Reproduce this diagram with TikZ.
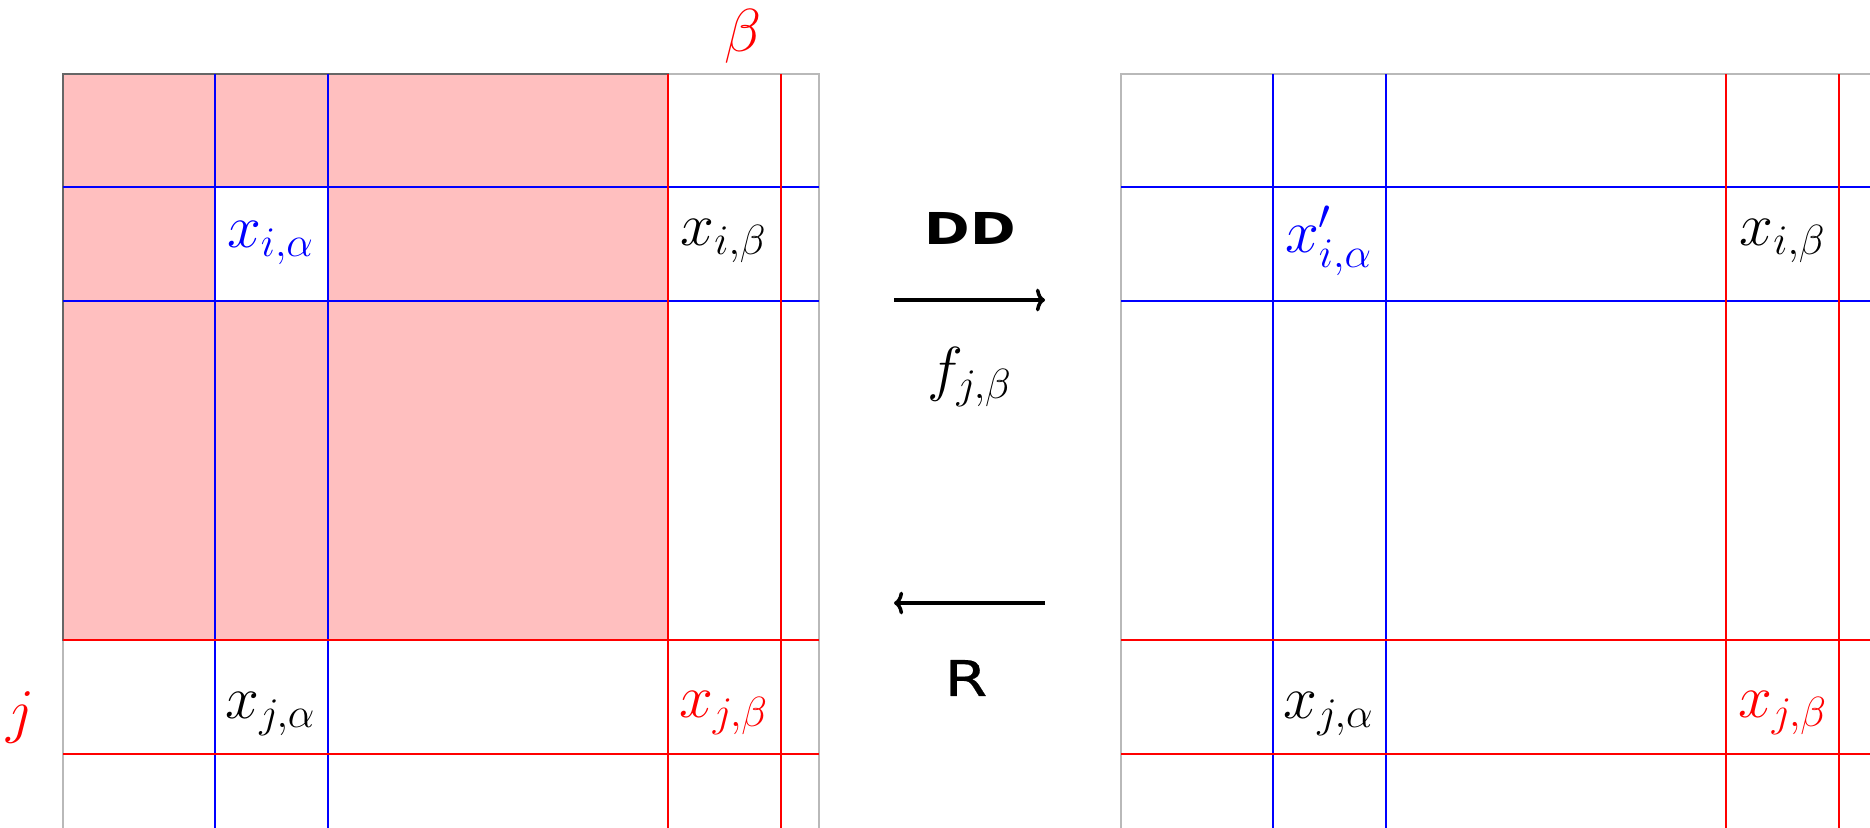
\documentclass[tikz,border=0pt]{standalone}
\usepackage{amsmath}
\usepackage{fontspec}
\newfontfamily\mapfont{DejaVu Sans}
\newfontfamily\mapfontsemi[FakeBold=0.5]{DejaVu Sans}
\usetikzlibrary{arrows.meta, positioning}

\tikzset{
  entry/.style={font=\LARGE, inner sep=0pt, anchor=base},
  index/.style={font=\LARGE, inner sep=0pt, red},
  frame/.style={draw=gray!55, line width=0.4pt},
  blueline/.style={blue, line width=0.6pt},
  redline/.style={red, line width=0.6pt},
  maparrow/.style={-{To[length=2.6pt,width=6.5pt]}, line width=1pt},
  maplabel/.style={font=\mapfont\bfseries\fontsize{12.5}{15}\selectfont, inner sep=0pt},
  mapsemi/.style={font=\mapfontsemi\fontsize{14}{17}\selectfont, inner sep=0pt}
}

\begin{document}
\begin{tikzpicture}[x=0.1mm, y=-0.1mm]
        \useasboundingbox (0,0) rectangle (1870,827);
        \clip (0,0) rectangle (1870,827);

        % Outer frames of the two matrices
        \foreach \dx in {0,1058} {
            \draw[frame, shift={(\dx,0)}] (63,900) -- (63,74) -- (819,74) -- (819,900);
        }

        % Shaded block of the left matrix
        \filldraw[fill=red!25, draw=gray!80!black, line width=0.4pt] (63,74) rectangle (668,640);
        \fill[white] (215,187) rectangle (328,301);

        % Rows i and j, columns alpha and beta
        \foreach \dx in {0,1058} {
            \begin{scope}[shift={(\dx,0)}]
                \draw[blueline] (63,187) -- (819,187) (63,301) -- (819,301);
                \draw[blueline, line width=0.5pt] (215,74) -- (215,900) (328,74) -- (328,900);
                \draw[redline] (63,640) -- (819,640) (63,754) -- (819,754);
                \draw[redline] (668,74) -- (668,900);
                \draw[redline, line width=0.4pt] (781,74) -- (781,900);
            \end{scope}
        }

        % Index labels
        \node[index] (beta) at (743,36) {$\beta$};
        \node[index] (jrow) at (21,717) {$j$};

        % Entries of the left matrix
        \node[entry, blue] (lia) at (271,247) {$x_{i,\alpha}$};
        \node[entry] (lib) at (724,245) {$x_{i,\beta}$};
        \node[entry] (lja) at (271,718) {$x_{j,\alpha}$};
        \node[entry, red] (ljb) at (724,717) {$x_{j,\beta}$};

        % Entries of the right matrix
        \node[entry, blue] (ria) at (1329,252) {$x'_{i,\alpha}$};
        \node[entry] (rib) at (1783,245) {$x_{i,\beta}$};
        \node[entry] (rja) at (1329,718) {$x_{j,\alpha}$};
        \node[entry, red] (rjb) at (1783,717) {$x_{j,\beta}$};

        % Maps between the matrices
        \coordinate (ddA) at (894,300);
        \coordinate (ddB) at (1045,300);
        \coordinate (rA) at (1045,603);
        \coordinate (rB) at (894,603);
        \draw[maparrow] (ddA) -- (ddB);
        \draw[maparrow] (rA) -- (rB);

        \node[maplabel] (dd) at (970,228) {\scalebox{1.25}[1]{DD}};
        \node[font=\LARGE, inner sep=0pt] (fjb) at (970,377) {$f_{j,\beta}$};
        \node[mapsemi] (rr) at (966,678) {\scalebox{1.25}[1]{R}};

    \end{tikzpicture}
\end{document}
